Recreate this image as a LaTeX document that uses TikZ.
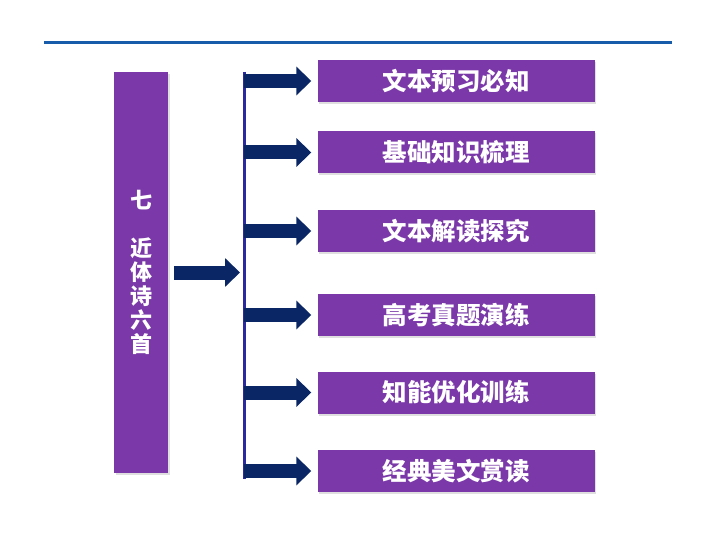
\documentclass[tikz,border=0pt]{standalone}
\usepackage{fontspec}
\newfontfamily\cjk{Noto Sans CJK SC}
\usetikzlibrary{arrows.meta,shadows}
\definecolor{boxpurple}{RGB}{122,56,168}
\definecolor{arrownavy}{RGB}{10,38,100}
\definecolor{barblue}{RGB}{42,42,158}
\definecolor{rulerblue}{RGB}{22,92,170}

\begin{document}
\begin{tikzpicture}[x=1pt,y=-1pt]
\tikzstyle{every node}+=[inner sep=0pt]
\tikzstyle{stepbox}=[fill=boxpurple, minimum width=277pt, minimum height=42pt,
  drop shadow={opacity=0.25, shadow xshift=1.5pt, shadow yshift=-2pt},
  text=white, font=\cjk\bfseries\fontsize{24.5}{24.5}\selectfont]
\tikzstyle{blockarrow}=[arrownavy, line width=14pt,
  -{Triangle[width=28pt,length=15pt]}]
\useasboundingbox (0,0) rectangle (720,540);
\draw [rulerblue, line width=3pt] (44,42.5) -- (672,42.5);
\node [fill=boxpurple, minimum width=54pt, minimum height=401pt,
  drop shadow={opacity=0.25, shadow xshift=1.5pt, shadow yshift=-2pt}]
  (topic) at (141,272.5) {};
\node [text=white, align=center, font=\cjk\bfseries\fontsize{22}{24}\selectfont]
  at (141,272) {七\\ \\近\\体\\诗\\六\\首};
\node [stepbox] (b1) at (456,81) {文本预习必知};
\node [stepbox] (b2) at (456,152.5) {基础知识梳理};
\node [stepbox] (b3) at (456,231) {文本解读探究};
\node [stepbox] (b4) at (456,315) {高考真题演练};
\node [stepbox] (b5) at (456,392.5) {知能优化训练};
\node [stepbox] (b6) at (456,471) {经典美文赏读};
\coordinate (bartop) at (244,72);
\coordinate (barbot) at (244,479);
\coordinate (barmid) at (244,272.5);
\draw [barblue, line width=3pt] (bartop) -- (barbot);
\draw [blockarrow, shorten <=6pt, shorten >=4pt] (topic.east) -- (barmid);
\foreach \b in {b1,b2,b3,b4,b5,b6}
  \draw [blockarrow, shorten >=6pt] (bartop |- \b.west) -- (\b.west);
\end{tikzpicture}
\end{document}
